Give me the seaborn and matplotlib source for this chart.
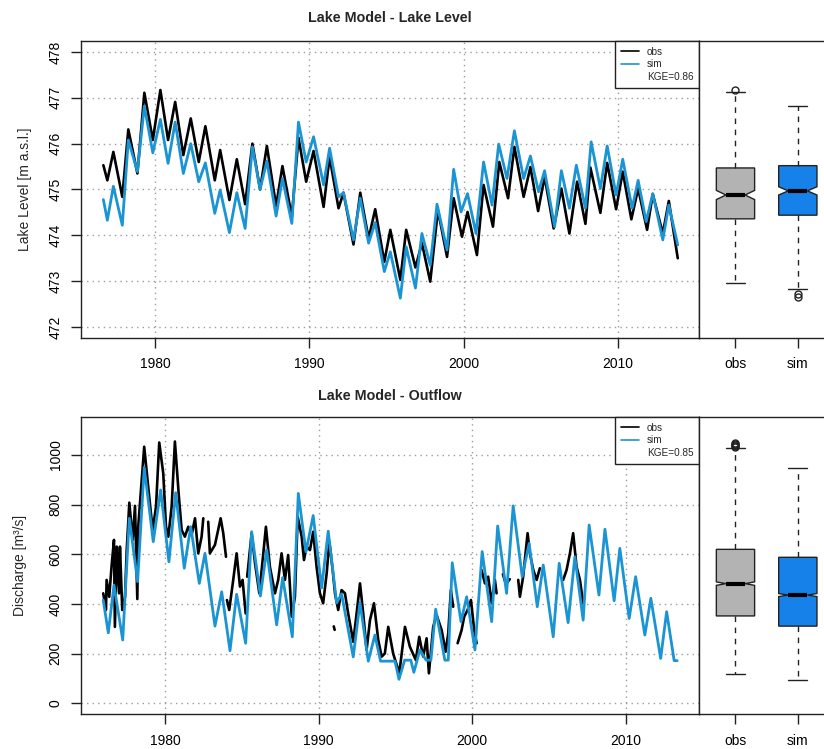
import numpy as np
import pandas as pd
import matplotlib
matplotlib.use("Agg")
import matplotlib.pyplot as plt
import seaborn as sns
from matplotlib.lines import Line2D

# ---------------- data ----------------
ll_obs_year = [1976.63, 1976.89, 1977.28, 1977.86, 1978.25, 1978.84, 1979.29, 1979.84, 1980.33, 1980.83,
               1981.29, 1981.82, 1982.30, 1982.82, 1983.25, 1983.86, 1984.21, 1984.81, 1985.29, 1985.83,
               1986.30, 1986.80, 1987.24, 1987.84, 1988.25, 1988.86, 1989.29, 1989.79, 1990.27, 1990.92,
               1991.31, 1991.89, 1992.21, 1992.86, 1993.30, 1993.84, 1994.27, 1994.86, 1995.25, 1995.90,
               1996.28, 1996.88, 1997.30, 1997.84, 1998.34, 1998.93, 1999.36, 1999.90, 2000.26, 2000.87,
               2001.30, 2001.91, 2002.32, 2002.89, 2003.30, 2003.90, 2004.34, 2004.84, 2005.26, 2005.85,
               2006.35, 2006.87, 2007.37, 2007.91, 2008.23, 2008.88, 2009.32, 2009.90, 2010.33, 2010.89,
               2011.33, 2011.91, 2012.28, 2012.93, 2013.32, 2013.90]
ll_obs_val = [475.53, 475.20, 475.82, 474.84, 476.31, 475.35, 477.11, 476.08, 477.17, 476.08,
              476.91, 475.75, 476.55, 475.60, 476.38, 475.20, 475.86, 474.77, 475.66, 474.68,
              476.00, 475.00, 475.95, 474.64, 475.51, 474.41, 476.13, 475.17, 475.84, 474.62,
              475.71, 474.59, 474.93, 473.80, 474.93, 473.93, 474.57, 473.42, 474.12, 473.03,
              474.12, 473.30, 473.83, 472.99, 474.55, 473.53, 474.81, 473.97, 474.51, 473.57,
              475.10, 474.19, 475.60, 474.81, 475.93, 474.84, 475.49, 474.53, 475.28, 474.15,
              475.02, 474.04, 475.17, 474.25, 475.48, 474.49, 475.58, 474.57, 475.39, 474.35,
              475.02, 474.12, 474.90, 474.04, 474.75, 473.50]

ll_sim_year = [1976.63, 1976.89, 1977.28, 1977.86, 1978.25, 1978.84, 1979.29, 1979.84, 1980.33, 1980.83,
               1981.29, 1981.82, 1982.30, 1982.82, 1983.25, 1983.86, 1984.21, 1984.81, 1985.29, 1985.83,
               1986.30, 1986.80, 1987.24, 1987.84, 1988.25, 1988.86, 1989.29, 1989.79, 1990.27, 1990.92,
               1991.31, 1991.89, 1992.21, 1992.86, 1993.30, 1993.84, 1994.27, 1994.86, 1995.25, 1995.90,
               1996.28, 1996.88, 1997.30, 1997.84, 1998.28, 1998.93, 1999.36, 1999.84, 2000.26, 2000.81,
               2001.30, 2001.85, 2002.28, 2002.82, 2003.30, 2003.90, 2004.34, 2004.87, 2005.26, 2005.91,
               2006.35, 2006.87, 2007.32, 2007.91, 2008.28, 2008.88, 2009.32, 2009.90, 2010.33, 2010.94,
               2011.33, 2011.85, 2012.28, 2012.93, 2013.32, 2013.90]
ll_sim_val = [474.78, 474.33, 475.07, 474.22, 476.08, 475.39, 476.82, 475.80, 476.53, 475.57,
              476.47, 475.35, 476.00, 475.17, 475.58, 474.48, 474.99, 474.06, 474.93, 474.15,
              475.93, 475.00, 475.62, 474.42, 475.24, 474.26, 476.47, 475.60, 476.15, 475.10,
              475.90, 474.84, 474.93, 473.90, 474.81, 473.83, 474.28, 473.21, 473.64, 472.63,
              473.75, 472.85, 474.04, 473.35, 474.68, 473.68, 475.44, 474.51, 474.91, 474.04,
              475.60, 474.66, 475.99, 475.24, 476.28, 475.24, 475.73, 474.95, 475.41, 474.19,
              475.41, 474.59, 475.53, 474.59, 476.04, 475.02, 475.95, 474.88, 475.66, 474.59,
              475.20, 474.30, 474.91, 473.90, 474.66, 473.79]

nan = float("nan")
q_obs_year = [1975.96, 1976.14, 1976.18, 1976.35, 1976.51, 1976.66, 1976.72, 1976.84, 1976.99, 1977.05,
              1977.20, 1977.38, 1977.49, 1977.66, 1977.88, 1978.03, 1978.18, 1978.24, 1978.63, 1978.89,
              1979.18, 1979.40, 1979.61, 1979.87, 1980.05, 1980.20, 1980.42, 1980.63, 1980.89, 1981.07,
              1981.28, 1981.50, 1981.72, 1981.94, 1982.15, 1982.37, 1982.48, nan,
              1982.80, 1982.91, 1983.24, 1983.61, 1983.78, 1983.96, nan,
              1984.02, 1984.17, 1984.43, 1984.65, 1984.87, 1985.04, 1985.24, nan,
              1985.34, 1985.63, 1985.85, 1986.13, 1986.39, 1986.56, 1986.82, 1987.15, 1987.36, 1987.58,
              1987.80, 1988.01, 1988.24, 1988.45, 1988.63, 1988.89, 1989.04, 1989.21, 1989.43, 1989.64,
              1989.86, 1990.08, 1990.29, 1990.52, 1990.69, 1990.91, 1991.06, 1991.27, 1991.49, 1991.71,
              1991.92, 1992.25, 1992.47, 1992.69, 1992.90, 1993.12, 1993.34, 1993.60, 1993.88, 1994.10,
              1994.31, 1994.53, 1994.85, 1995.25, 1995.62, 1995.94, 1996.33, 1996.55, 1996.81, 1997.03,
              1997.18, 1997.46, 1997.68, 1998.01, 1998.27, 1998.44, 1998.61, 1998.76, nan,
              1999.05, 1999.31, 1999.48, 1999.70, 1999.92, 2000.13, 2000.29, nan,
              2000.61, 2000.83, 2001.04, 2001.27, 2001.48, 2001.59, nan,
              2002.00, 2002.20, 2002.45, nan,
              2003.00, 2003.11, 2003.32, 2003.61, 2003.76, 2003.98, 2004.20, 2004.41, nan,
              2005.93, 2006.15, 2006.37, 2006.58, 2006.80, 2007.02, 2007.23, nan,
              1990.98, 1991.04]
q_obs_val = [443, 376, 497, 429, 557, 658, 308, 631, 443, 631,
             376, 429, 617, 808, 658, 795, 420, 711, 1033, 872,
             698, 792, 1050, 926, 711, 671, 792, 1054, 832, 698,
             671, 711, 678, 745, 604, 671, 745, nan,
             731, 604, 638, 745, 685, 590, nan,
             416, 376, 497, 604, 470, 497, 362, nan,
             510, 685, 564, 443, 604, 711, 550, 443, 497, 604,
             497, 597, 349, 429, 751, 671, 577, 631, 617, 691,
             550, 443, 403, 524, 651, 537, 443, 376, 456, 443,
             362, 248, 362, 483, 362, 215, 335, 403, 255, 188,
             201, 308, 201, 121, 308, 228, 174, 268, 188, 262,
             121, 308, 356, 295, 208, 282, 456, 389, nan,
             242, 295, 349, 376, 416, 295, 242, nan,
             537, 483, 510, 403, 497, 443, nan,
             520, 480, 500, nan,
             497, 429, 510, 685, 604, 537, 497, 544, nan,
             497, 537, 604, 685, 550, 497, 403, nan,
             310, 296]

q_sim_year = [1975.96, 1976.29, 1976.66, 1977.23, 1977.66, 1978.20, 1978.63, 1979.22, 1979.70, 1980.24,
              1980.68, 1981.24, 1981.66, 1982.22, 1982.59, 1983.24, 1983.68, 1984.22, 1984.65, 1985.24,
              1985.63, 1986.20, 1986.61, 1987.26, 1987.65, 1988.28, 1988.67, 1989.17, 1989.64, 1990.19,
              1990.62, 1991.17, 1991.49, 1992.25, 1992.69, 1993.23, 1993.66, 1994.03, 1994.97, 1995.23,
              1995.60, 1996.00, 1996.20, 1996.59, 1997.00, 1997.31, 1997.62, 1998.22, 1998.44, 1998.70,
              1999.27, 1999.64, 2000.18, 2000.65, 2001.27, 2001.66, 2002.24, 2002.67, 2003.26, 2003.71,
              2004.24, 2004.63, 2005.28, 2005.67, 2006.25, 2006.69, 2007.23, 2007.62, 2008.26, 2008.65,
              2009.25, 2009.62, 2010.23, 2010.65, 2011.25, 2011.64, 2012.28, 2012.67, 2013.16, 2013.36]
q_sim_val = [416, 284, 476, 255, 745, 490, 950, 651, 859, 570,
             848, 544, 711, 483, 604, 311, 449, 212, 439, 242,
             691, 432, 618, 316, 506, 268, 845, 610, 756, 465,
             693, 404, 441, 187, 406, 170, 275, 170, 170, 97,
             174, 174, 125, 215, 174, 174, 379, 174, 174, 566,
             329, 429, 215, 611, 329, 714, 443, 795, 510, 644,
             389, 557, 268, 564, 325, 590, 335, 718, 436, 701,
             413, 624, 342, 510, 275, 423, 181, 369, 172, 172]

box_labels = ["obs", "sim"]
ll_box_q1 = [474.36, 474.44]
ll_box_med = [474.88, 474.97]
ll_box_q3 = [475.47, 475.52]
ll_box_lo = [472.97, 472.82]
ll_box_hi = [477.12, 476.82]
ll_box_cilo = [474.78, 474.88]
ll_box_cihi = [474.98, 475.06]
ll_box_fliers = [[477.18], [472.72, 472.66]]

q_box_q1 = [352, 311]
q_box_med = [482, 436]
q_box_q3 = [620, 588]
q_box_lo = [118, 94]
q_box_hi = [1027, 949]
q_box_cilo = [475, 430]
q_box_cihi = [489, 442]
q_box_fliers = [[1033, 1037, 1041, 1045, 1049], []]

kge_ll = "KGE=0.86"
kge_q = "KGE=0.85"

# ---------------- style ----------------
sns.set_theme(style="ticks")
plt.rcParams['font.family'] = ['Liberation Sans', 'DejaVu Sans']
plt.rcParams['axes.edgecolor'] = '#222222'
plt.rcParams['axes.linewidth'] = 1.0
plt.rcParams['lines.solid_joinstyle'] = 'round'
plt.rcParams['lines.solid_capstyle'] = 'round'

OBS_C = 'black'
SIM_C = '#1a94d2'
BOX_C = ['#b3b3b3', '#1681e8']
GRID_C = '#9c9c9c'

fig = plt.figure(figsize=(8.24, 7.49), dpi=100)
ax1 = fig.add_axes([0.0983, 0.5487, 0.7504, 0.3966])
bx1 = fig.add_axes([0.8487, 0.5487, 0.1634, 0.3966])
ax2 = fig.add_axes([0.0979, 0.0463, 0.7508, 0.3974])
bx2 = fig.add_axes([0.8487, 0.0463, 0.1634, 0.3974])


def draw_series(ax, years, vals, color, lw):
    df = pd.DataFrame({'year': years, 'val': vals})
    df['seg'] = (df['val'].isna() | df['year'].isna()).cumsum()
    df = df.dropna()
    sns.lineplot(data=df, x='year', y='val', units='seg', estimator=None,
                 color=color, lw=lw, ax=ax, sort=False, legend=False)
    for ln in ax.get_lines():
        ln.set_solid_joinstyle('round')


def style_main(ax, yticks, ylim, xlim):
    ax.set_xlim(xlim)
    ax.set_ylim(ylim)
    ax.set_xticks([1980, 1990, 2000, 2010])
    ax.set_yticks(yticks)
    ax.set_xlabel('')
    ax.grid(True, color=GRID_C, linestyle=(0, (1, 3)), lw=1.0)
    ax.set_axisbelow(True)
    ax.tick_params(axis='both', direction='out', length=7, width=1, labelsize=10,
                   colors='#222222', labelcolor='black')
    ax.tick_params(axis='x', pad=7)
    ax.tick_params(axis='y', pad=6, labelrotation=90)
    plt.setp(ax.get_yticklabels(), va='center', ha='right')
    for s in ax.spines.values():
        s.set_visible(True)


def draw_box(bx, q1, med, q3, lo, hi, cilo, cihi, fliers, ylim):
    stats = []
    for i in range(2):
        stats.append(dict(q1=q1[i], med=med[i], q3=q3[i], whislo=lo[i], whishi=hi[i],
                          cilo=cilo[i], cihi=cihi[i], fliers=fliers[i], label=box_labels[i]))
    bp = bx.bxp(stats, positions=[1, 2], widths=0.614, shownotches=True, patch_artist=True,
                boxprops=dict(edgecolor='#222222', lw=1.0),
                whiskerprops=dict(color='#222222', lw=1.0, linestyle=(0, (4, 4))),
                capprops=dict(color='#222222', lw=1.0),
                medianprops=dict(color='black', lw=3),
                flierprops=dict(marker='o', mfc='none', mec='#222222', ms=5, mew=1),
                manage_ticks=False)
    for patch, c in zip(bp['boxes'], BOX_C):
        patch.set_facecolor(c)
    bx.set_xlim(0.42, 2.58)
    bx.set_ylim(ylim)
    bx.set_xticks([1, 2])
    bx.set_xticklabels(box_labels)
    bx.set_yticks([])
    bx.grid(False)
    bx.tick_params(axis='x', direction='out', length=7, width=1, labelsize=10, pad=7,
                   colors='#222222', labelcolor='black')
    for s in bx.spines.values():
        s.set_visible(True)


def add_legend(ax, kge):
    handles = [Line2D([], [], color=OBS_C, lw=1.2), Line2D([], [], color=SIM_C, lw=1.2),
               Line2D([], [], color='none')]
    leg = ax.legend(handles, ['obs', 'sim', kge], loc='upper right', bbox_to_anchor=(1, 1),
                    borderaxespad=0, fontsize=7.2, frameon=True, fancybox=False,
                    edgecolor='#222222', framealpha=1, handlelength=1.8, handletextpad=0.8,
                    labelspacing=0.25, borderpad=0.6)
    leg.get_frame().set_linewidth(1.0)


# ---- top: lake level ----
ll_ylim = (471.76, 478.24)
draw_series(ax1, ll_obs_year, ll_obs_val, OBS_C, 1.9)
draw_series(ax1, ll_sim_year, ll_sim_val, SIM_C, 2.0)
style_main(ax1, [472, 473, 474, 475, 476, 477, 478], ll_ylim, (1975.18, 2015.3))
ax1.set_ylabel('Lake Level [m a.s.l.]', fontsize=10)
ax1.yaxis.set_label_coords(-0.080, 0.5)
add_legend(ax1, kge_ll)
draw_box(bx1, ll_box_q1, ll_box_med, ll_box_q3, ll_box_lo, ll_box_hi, ll_box_cilo, ll_box_cihi,
         ll_box_fliers, ll_ylim)

# ---- bottom: outflow ----
q_ylim = (-44, 1154)
draw_series(ax2, q_obs_year, q_obs_val, OBS_C, 1.9)
draw_series(ax2, q_sim_year, q_sim_val, SIM_C, 2.0)
style_main(ax2, [0, 200, 400, 600, 800, 1000], q_ylim, (1974.49, 2014.8))
ax2.set_ylabel('Discharge [m³/s]', fontsize=10)
ax2.yaxis.set_label_coords(-0.086, 0.5)
add_legend(ax2, kge_q)
draw_box(bx2, q_box_q1, q_box_med, q_box_q3, q_box_lo, q_box_hi, q_box_cilo, q_box_cihi,
         q_box_fliers, q_ylim)

fig.text(0.4735, 0.976, 'Lake Model - Lake Level', ha='center', va='center',
         fontsize=10.3, fontweight='bold')
fig.text(0.4733, 0.4717, 'Lake Model - Outflow', ha='center', va='center',
         fontsize=10.3, fontweight='bold')

fig.savefig('out.png', dpi=100)
